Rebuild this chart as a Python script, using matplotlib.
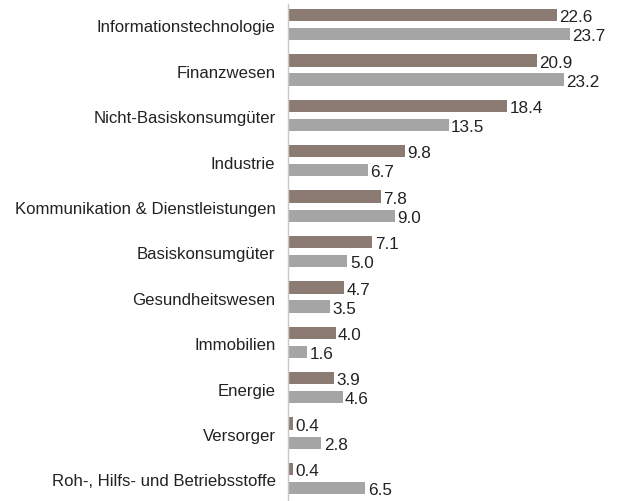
import matplotlib
matplotlib.use("Agg")
import matplotlib.pyplot as plt
import numpy as np
from matplotlib import font_manager

categories = ["Informationstechnologie", "Finanzwesen", "Nicht-Basiskonsumgüter", "Industrie",
              "Kommunikation & Dienstleistungen", "Basiskonsumgüter", "Gesundheitswesen",
              "Immobilien", "Energie", "Versorger", "Roh-, Hilfs- und Betriebsstoffe"]
series_a = [22.6, 20.9, 18.4, 9.8, 7.8, 7.1, 4.7, 4.0, 3.9, 0.4, 0.4]
series_b = [23.7, 23.2, 13.5, 6.7, 9.0, 5.0, 3.5, 1.6, 4.6, 2.8, 6.5]

names = {f.name for f in font_manager.fontManager.ttflist}
fam = "Liberation Sans Narrow" if "Liberation Sans Narrow" in names else "Liberation Sans"
plt.rcParams['font.family'] = [fam, 'DejaVu Sans']

fig = plt.figure(figsize=(6.2, 5.01), dpi=100)
ax = fig.add_axes([288/620, 0/501, 332/620, 497/501])

y = np.arange(len(categories))
h = 0.27
off = 0.21
ca, cb = "#8C7B72", "#A5A5A5"
ax.barh(y - off, series_a, height=h, color=ca)
ax.barh(y + off, series_b, height=h, color=cb)
for yi, a, b in zip(y, series_a, series_b):
    ax.text(a + 0.2, yi - off + 0.06, f"{a:.1f}", va="center", ha="left", fontsize=12.3, color="#222222")
    ax.text(b + 0.2, yi + off + 0.06, f"{b:.1f}", va="center", ha="left", fontsize=12.3, color="#222222")

ax.set_xlim(0, 27.9)
ax.set_ylim(10.495, -0.4525)
ax.set_yticks(y + 0.04)
ax.set_yticklabels(categories, fontsize=12.1, color="#222222")
ax.tick_params(axis="y", length=0, pad=9)
ax.set_xticks([])
for s in ["top", "right", "bottom"]:
    ax.spines[s].set_visible(False)
ax.spines["left"].set_color("#C8C8C8")
ax.spines["left"].set_linewidth(1)

fig.savefig("out.png", dpi=100)
